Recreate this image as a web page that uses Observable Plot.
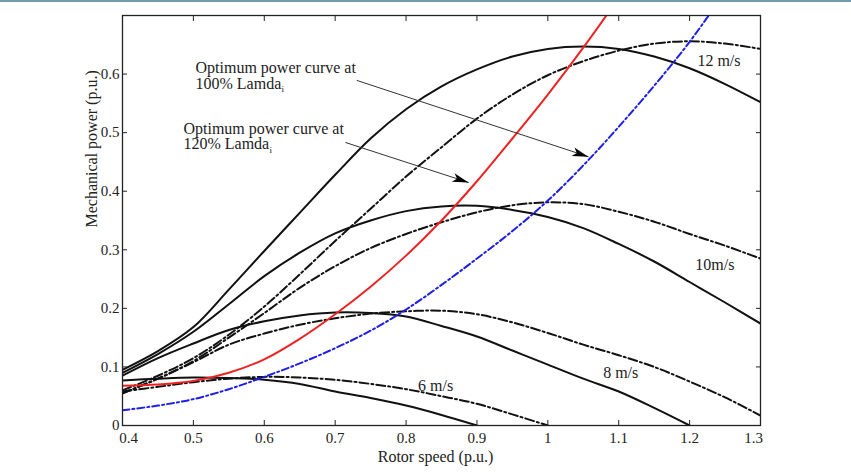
<!DOCTYPE html>
<html><head><meta charset="utf-8">
<script src="https://cdn.jsdelivr.net/npm/d3@7"></script>
<script src="https://cdn.jsdelivr.net/npm/@observablehq/plot@0.6"></script>
<style>
body{margin:0;background:#fff;}
#topline{position:absolute;left:0;top:0;width:851px;height:2px;background:#6f9db0;}
#chart svg{display:block}
</style>
</head><body><div id="chart"></div><div id="topline"></div>
<script>
// Rotor speed grid (p.u.)
const rotorSpeed = [0.4,0.45,0.5,0.55,0.6,0.65,0.7,0.75,0.8,0.85,0.9,0.95,1.0,1.05,1.1,1.15,1.2,1.25,1.3];

// Mechanical power (p.u.) per curve
const solid12 = [0.095,0.127,0.168,0.232,0.298,0.363,0.428,0.49,0.54,0.579,0.608,0.63,0.643,0.647,0.643,0.63,0.61,0.583,0.552];
const dash12  = [0.06,0.085,0.115,0.155,0.203,0.258,0.315,0.37,0.425,0.475,0.524,0.565,0.598,0.622,0.64,0.652,0.656,0.652,0.643];
const solid10 = [0.09,0.122,0.16,0.207,0.255,0.295,0.328,0.35,0.366,0.374,0.375,0.368,0.356,0.337,0.31,0.28,0.245,0.21,0.174];
const dash10  = [0.055,0.08,0.11,0.15,0.192,0.235,0.272,0.303,0.327,0.347,0.364,0.376,0.381,0.378,0.365,0.348,0.327,0.307,0.285];
const solid8  = [0.085,0.115,0.14,0.163,0.178,0.188,0.193,0.192,0.186,0.17,0.152,0.128,0.104,0.08,0.058,0.03,0.0];
const dash8   = [0.055,0.08,0.108,0.138,0.157,0.172,0.183,0.191,0.195,0.196,0.19,0.176,0.158,0.138,0.12,0.1,0.075,0.048,0.017];
const solid6  = [0.077,0.08,0.082,0.081,0.078,0.071,0.058,0.047,0.034,0.018,0.0];
const dash6   = [0.058,0.066,0.074,0.08,0.083,0.082,0.078,0.071,0.062,0.05,0.037,0.019,0.0];
const optimum120 = [0.068,0.070,0.076,0.09,0.113,0.148,0.19,0.237,0.29,0.35,0.417,0.49,0.565,0.645,0.73];
const optimum100 = [0.026,0.034,0.045,0.062,0.083,0.106,0.132,0.162,0.198,0.24,0.285,0.332,0.384,0.444,0.51,0.58,0.655,0.74];

// Tick values and labels
const xTicks = [0.4,0.5,0.6,0.7,0.8,0.9,1.0,1.1,1.2,1.3];
const xTickLabels = ["0.4","0.5","0.6","0.7","0.8","0.9","1","1.1","1.2","1.3"];
const yTicks = [0,0.1,0.2,0.3,0.4,0.5,0.6];
const yTickLabels = ["0","0.1","0.2","0.3","0.4","0.5","0.6"];

// Wind speed labels
const speedLabels = ["12 m/s","10m/s","8 m/s","6 m/s"];
const speedLabelX = [1.211,1.208,1.078,0.817];
const speedLabelY = [0.623,0.275,0.089,0.068];

// Annotations
const noteLines = ["Optimum power curve at","100% Lamda","Optimum power curve at","120% Lamda"];
const noteX = [0.503,0.503,0.486,0.486];
const noteY = [0.611,0.584,0.507,0.480];
const arrows = [
  {x1:0.731, y1:0.589, x2:1.057, y2:0.459, angle:108.2},
  {x1:0.715, y1:0.483, x2:0.888, y2:0.415, angle:108.0}
];

const black = "#111";
const dashDot = "9,3,2,3";
const series = [
  {v: solid12, stroke: black, dash: null},
  {v: dash12, stroke: black, dash: dashDot},
  {v: solid10, stroke: black, dash: null},
  {v: dash10, stroke: black, dash: dashDot},
  {v: solid8, stroke: black, dash: null},
  {v: dash8, stroke: black, dash: dashDot},
  {v: solid6, stroke: black, dash: null},
  {v: dash6, stroke: black, dash: dashDot},
  {v: optimum100, stroke: "#1e1ee6", dash: "7,3,2,3"},
  {v: optimum120, stroke: "#ee2222", dash: null}
];

const lineMarks = series.map(s => {
  const rows = s.v.map((p, i) => ({x: rotorSpeed[i], y: p}));
  return Plot.line(rows, {x: "x", y: "y", stroke: s.stroke, strokeWidth: 2, strokeDasharray: s.dash, curve: "catmull-rom", clip: true});
});

const fmtX = d => xTickLabels[xTicks.findIndex(t => Math.abs(t - d) < 1e-9)];
const fmtY = d => yTickLabels[yTicks.findIndex(t => Math.abs(t - d) < 1e-9)];

const arrowHead = {draw(ctx) { ctx.moveTo(0,0); ctx.lineTo(-4.5,16); ctx.lineTo(0,12); ctx.lineTo(4.5,16); ctx.closePath(); }};

const labelRows = speedLabels.map((t,i) => ({t, x: speedLabelX[i], y: speedLabelY[i]}));
const noteRows = noteLines.map((t,i) => ({t, x: noteX[i], y: noteY[i]}));
const subRows = [noteRows[1], noteRows[3]];

const plot = Plot.plot({
  width: 851, height: 476,
  marginLeft: 122, marginRight: 91, marginTop: 15, marginBottom: 51,
  style: {fontFamily: "'Liberation Serif', 'Times New Roman', serif", fontSize: "15px", color: "#222", background: "#fff"},
  x: {domain: [0.4, 1.3]},
  y: {domain: [0, 0.7]},
  marks: [
    ...lineMarks,
    Plot.arrow(arrows, {x1: "x1", y1: "y1", x2: "x2", y2: "y2", stroke: "#333", strokeWidth: 1, headLength: 0}),
    Plot.dot(arrows, {x: "x2", y: "y2", symbol: arrowHead, rotate: "angle", fill: "#000", stroke: "none", r: 5}),
    Plot.text(labelRows, {x: "x", y: "y", text: "t", textAnchor: "start", fontSize: 16, fill: "#222"}),
    Plot.text(noteRows, {x: "x", y: "y", text: "t", textAnchor: "start", fontSize: 16, fill: "#222"}),
    Plot.text(subRows, {x: "x", y: "y", text: () => "i", textAnchor: "start", fontSize: 9, dx: 86, dy: 6, fill: "#222"}),
    Plot.frame({stroke: "#222", strokeWidth: 1.3}),
    Plot.axisX({ticks: xTicks, tickFormat: () => "", tickSize: -5, label: null}),
    Plot.axisX({ticks: xTicks.slice(1, -1), tickFormat: fmtX, tickSize: 0, tickPadding: 7, label: null, fontSize: 15}),
    Plot.axisX({ticks: xTicks.slice(0, 1), tickFormat: fmtX, tickSize: 0, tickPadding: 7, dx: 6, label: null, fontSize: 15}),
    Plot.axisX({ticks: xTicks.slice(-1), tickFormat: fmtX, tickSize: 0, tickPadding: 7, dx: -7, label: null, fontSize: 15}),
    Plot.axisX({anchor: "top", ticks: xTicks, tickFormat: () => "", tickSize: -5, label: null}),
    Plot.axisY({ticks: yTicks, tickFormat: fmtY, tickSize: -5, tickPadding: 8, label: null, fontSize: 15}),
    Plot.axisY({anchor: "right", ticks: yTicks, tickFormat: () => "", tickSize: -5, label: null}),
    Plot.text(["Rotor speed (p.u.)"], {frameAnchor: "bottom", dy: 36, dx: -6, fontSize: 16, fill: "#222"}),
    Plot.text(["Mechanical power (p.u.)"], {frameAnchor: "left", rotate: -90, dx: -31, dy: 7, fontSize: 16, fill: "#222"})
  ]
});
document.getElementById("chart").appendChild(plot);
</script></body></html>
